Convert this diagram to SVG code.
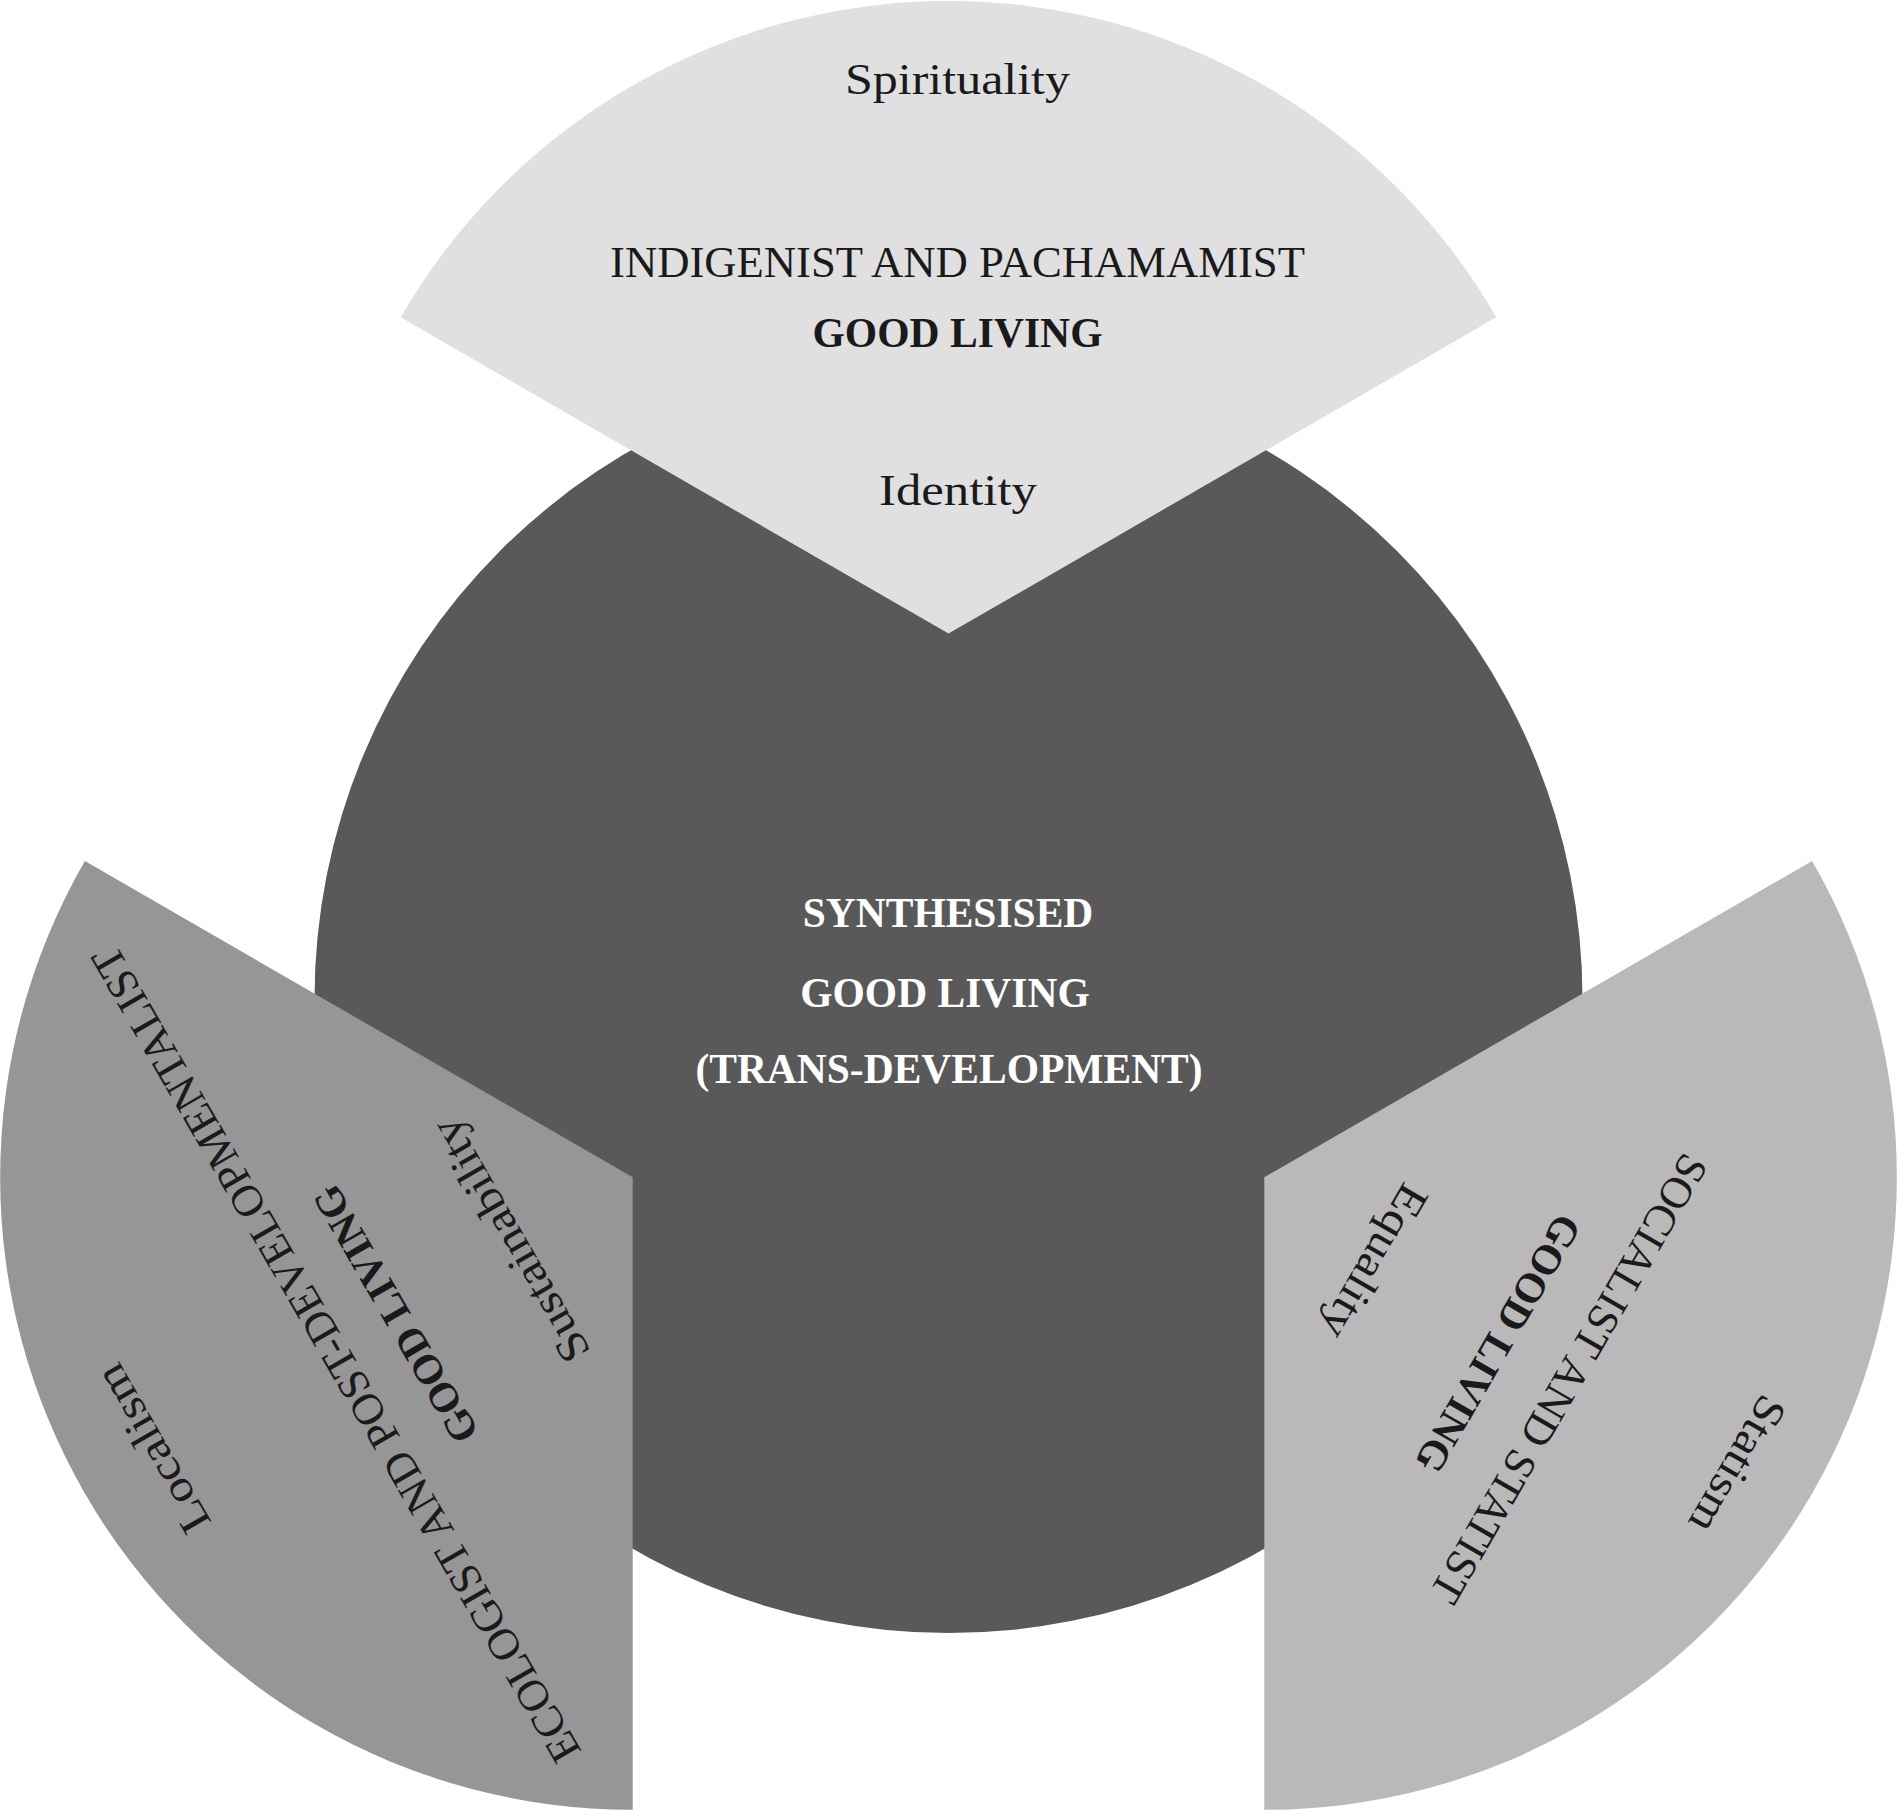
<svg xmlns="http://www.w3.org/2000/svg" width="1897" height="1811" viewBox="0 0 1897 1811">
<style>
  text { font-family: "Liberation Serif", "Times New Roman", serif; text-anchor: middle; }
  .lbl { font-size: 44px; fill: #1a1a1a; }
  .ttl { font-size: 44px; fill: #1a1a1a; }
  .bld { font-size: 41.5px; font-weight: bold; fill: #1a1a1a; }
  .wht { font-size: 41.5px; font-weight: bold; fill: #ffffff; }
</style>
<rect x="0" y="0" width="1897" height="1811" fill="#ffffff"/>
<g id="center-node">
  <circle cx="948.5" cy="999" r="634" fill="#595959"/>
  <text class="wht" x="948" y="927">SYNTHESISED</text>
  <text class="wht" x="945" y="1006.7">GOOD LIVING</text>
  <text class="wht" x="949" y="1083">(TRANS-DEVELOPMENT)</text>
</g>
<g id="indigenist-node">
  <path d="M 948.5 633.6 L 400.7 317.3 A 632.5 632.5 0 0 1 1496.3 317.3 Z" fill="#e0e0e0"/>
  <g transform="translate(948.5,633.6)">
    <text class="lbl" x="9" y="-539.6" textLength="225" lengthAdjust="spacingAndGlyphs">Spirituality</text>
    <text class="ttl" x="9" y="-356.6" textLength="695" lengthAdjust="spacingAndGlyphs">INDIGENIST AND PACHAMAMIST</text>
    <text class="bld" x="9" y="-286.6" textLength="290" lengthAdjust="spacingAndGlyphs">GOOD LIVING</text>
    <text class="lbl" x="9.5" y="-128.6" textLength="158" lengthAdjust="spacingAndGlyphs">Identity</text>
  </g>
</g>
<g id="ecologist-node">
  <path d="M 632.7 1177.3 L 84.9 861.05 A 632.5 632.5 0 0 0 632.7 1809.8 Z" fill="#969696"/>
  <g transform="translate(632.7,1177.3) rotate(-120)">
    <text class="lbl" x="5" y="-537" textLength="187" lengthAdjust="spacingAndGlyphs">Localism</text>
    <text class="ttl" x="-5" y="-331" textLength="934" lengthAdjust="spacingAndGlyphs">ECOLOGIST AND POST-DEVELOPMENTALIST</text>
    <text class="bld" x="0" y="-260" textLength="290" lengthAdjust="spacingAndGlyphs">GOOD LIVING</text>
    <text class="lbl" x="6.5" y="-123" textLength="274" lengthAdjust="spacingAndGlyphs">Sustainability</text>
  </g>
</g>
<g id="socialist-node">
  <path d="M 1264.3 1177.3 L 1812.1 861.05 A 632.5 632.5 0 0 1 1264.3 1809.8 Z" fill="#b9b9b9"/>
  <g transform="translate(1264.3,1177.3) rotate(120)">
    <text class="lbl" x="12" y="-539" textLength="151" lengthAdjust="spacingAndGlyphs">Statism</text>
    <text class="ttl" x="22" y="-350" textLength="510" lengthAdjust="spacingAndGlyphs">SOCIALIST AND STATIST</text>
    <text class="bld" x="27" y="-272" textLength="290" lengthAdjust="spacingAndGlyphs">GOOD LIVING</text>
    <text class="lbl" x="18" y="-123" textLength="171" lengthAdjust="spacingAndGlyphs">Equality</text>
  </g>
</g>
<g id="connectors"></g>
</svg>
